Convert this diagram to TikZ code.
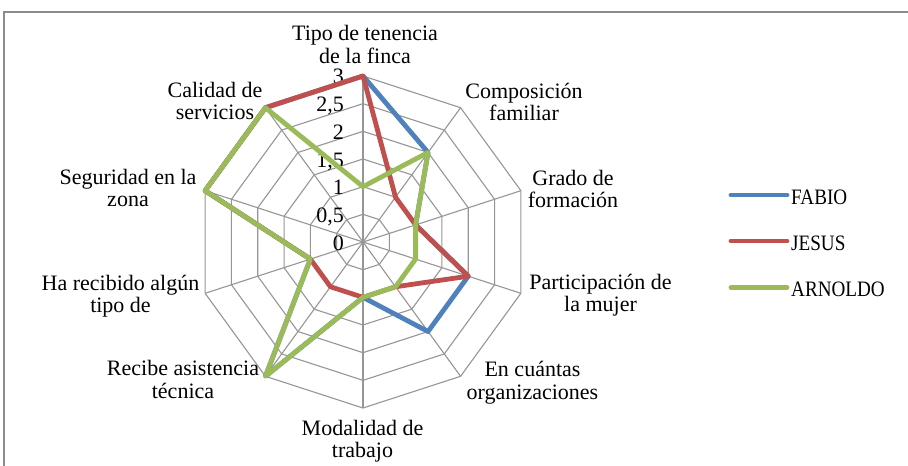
\documentclass[tikz,border=0pt]{standalone}
\usepackage{fontspec}
\usepackage{graphicx}
\setmainfont{Liberation Serif}
\definecolor{cBlue}{RGB}{79,129,189}
\definecolor{cRed}{RGB}{192,80,77}
\definecolor{cGreen}{RGB}{155,187,89}
\definecolor{cGrid}{RGB}{150,150,150}
\definecolor{cFrame}{RGB}{140,140,140}
\newcommand\rU{55.333}
\newcommand\gU{27.667}
\newcommand\lbltab[1]{\begin{tabular}[t]{@{}c@{}}#1\end{tabular}}
\newcommand\legtext[1]{\scalebox{0.87}[1]{#1}}
\begin{document}
\begin{tikzpicture}[x=1pt,y=1pt,
  lbl/.style={font=\fontsize{22}{22.5}\selectfont, inner sep=0pt, anchor=base},
  numlbl/.style={font=\fontsize{22}{22.5}\selectfont, inner sep=0pt, anchor=base east},
  gridline/.style={draw=cGrid, line width=1.1pt},
  series/.style={line width=4.8pt, line join=round},
  legline/.style={line width=4.8pt, line cap=round},
  framel/.style={draw=cFrame, line width=1.3pt}]
\useasboundingbox (0,0) rectangle (908,-466);
\fill[white] (0,0) rectangle (908,-466);
\draw[framel] (908,-12) -- (4,-12) -- (4,-466);
\coordinate (C) at (363,-242);
\begin{scope}[shift={(C)}]
  % rings
  \foreach \l in {1,...,6}{
    \draw[gridline] (90:\l*\gU) -- (54:\l*\gU) -- (18:\l*\gU) -- (-18:\l*\gU) -- (-54:\l*\gU)
      -- (-90:\l*\gU) -- (-126:\l*\gU) -- (-162:\l*\gU) -- (-198:\l*\gU) -- (-234:\l*\gU) -- cycle;
  }
  % spokes
  \foreach \a in {90,54,18,-18,-54,-90,-126,-162,-198,-234}{
    \draw[gridline] (0,0) -- (\a:6*\gU);
  }
  % value labels
  \foreach \l/\t [count=\i] in {0/0,1/{0,5},2/1,3/{1,5},4/2,5/{2,5},6/3}{
    \node[numlbl] (v\i) at (-19,\l*\gU-8) {\t};
  }
  % series
  \draw[series, cBlue] (90:3*\rU) -- (54:2*\rU) -- (18:1*\rU) -- (-18:2*\rU) -- (-54:2*\rU)
    -- (-90:1*\rU) -- (-126:3*\rU) -- (-162:1*\rU) -- (-198:3*\rU) -- (-234:3*\rU) -- cycle;
  \draw[series, cRed] (90:3*\rU) -- (54:1*\rU) -- (18:1*\rU) -- (-18:2*\rU) -- (-54:1*\rU)
    -- (-90:1*\rU) -- (-126:1*\rU) -- (-162:1*\rU) -- (-198:3*\rU) -- (-234:3*\rU) -- cycle;
  \draw[series, cGreen] (90:1*\rU) -- (54:2*\rU) -- (18:1*\rU) -- (-18:1*\rU) -- (-54:1*\rU)
    -- (-90:1*\rU) -- (-126:3*\rU) -- (-162:1*\rU) -- (-198:3*\rU) -- (-234:3*\rU) -- cycle;
\end{scope}
% category labels
\node[lbl] (tipo)   at (365,-40.5)   {\lbltab{Tipo de tenencia\\de la finca}};
\node[lbl] (comp)   at (524,-98.3)   {\lbltab{Composición\\familiar}};
\node[lbl] (grado)  at (573,-185)    {\lbltab{Grado de\\formación}};
\node[lbl] (part)   at (600.5,-289.3){\lbltab{Participación de\\la mujer}};
\node[lbl] (encu)   at (532.5,-376.7){\lbltab{En cuántas\\organizaciones}};
\node[lbl] (modal)  at (362.5,-435)  {\lbltab{Modalidad de\\trabajo}};
\node[lbl] (recibe) at (183,-375.5)  {\lbltab{Recibe asistencia\\técnica}};
\node[lbl] (ha)     at (120.5,-290)  {\lbltab{Ha recibido algún\\tipo de}};
\node[lbl] (seg)    at (128,-184)    {\lbltab{Seguridad en la\\zona}};
\node[lbl] (cal)    at (215,-97.3)   {\lbltab{Calidad de\\servicios}};
% legend
\coordinate (lb1) at (731,-195); \coordinate (le1) at (787,-195);
\coordinate (lb2) at (731,-241); \coordinate (le2) at (787,-241);
\coordinate (lb3) at (731,-287.5); \coordinate (le3) at (787,-287.5);
\draw[legline, cBlue] (lb1) -- (le1);
\draw[legline, cRed] (lb2) -- (le2);
\draw[legline, cGreen] (lb3) -- (le3);
\node[lbl, anchor=base west] (fabio) at (791,-204) {\legtext{FABIO}};
\node[lbl, anchor=base west] (jesus) at (791,-250.5) {\legtext{JESUS}};
\node[lbl, anchor=base west] (arnoldo) at (791,-296.5) {\legtext{ARNOLDO}};
\end{tikzpicture}
\end{document}
